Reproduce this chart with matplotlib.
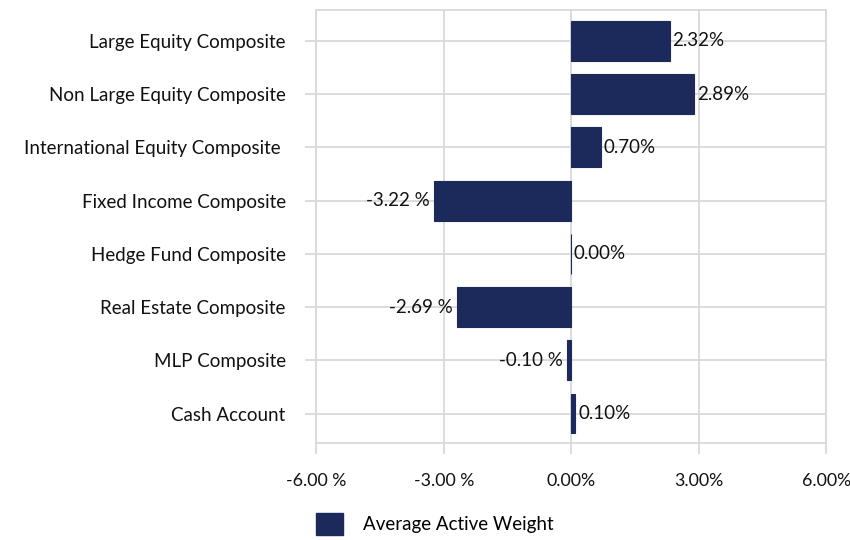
import numpy as np
import matplotlib.pyplot as plt
from matplotlib.patches import Patch

plt.rcParams['font.family'] = ['Lato', 'DejaVu Sans']

# Data
categories = ['Large Equity Composite', 'Non Large Equity Composite',
              'International Equity Composite ', 'Fixed Income Composite',
              'Hedge Fund Composite', 'Real Estate Composite',
              'MLP Composite', 'Cash Account']
weights = [2.32, 2.89, 0.70, -3.22, 0.00, -2.69, -0.10, 0.10]
xticks = [-6, -3, 0, 3, 6]
xtick_labels = ['-6.00 %', '-3.00 %', '0.00%', '3.00%', '6.00%']
series_name = 'Average Active Weight'

navy = '#1B2A5B'
grid_c = '#D9D9D9'
fs = 13.5

fig = plt.figure(figsize=(8.5, 5.4), dpi=100)
ax = fig.add_axes([0.372, 0.18, 0.6, 0.8015])

y = np.arange(len(categories))[::-1]
ax.barh(y, weights, height=0.75, color=navy, edgecolor=navy, linewidth=0.8, zorder=3)

# value labels
for yi, v in zip(y, weights):
    if v < 0:
        ax.annotate(f'{v:.2f} %', (v, yi), xytext=(-3, 0), textcoords='offset points',
                    ha='right', va='center', fontsize=fs, color='#111111', zorder=4)
    else:
        ax.annotate(f'{v:.2f}%', (v, yi), xytext=(2, 0), textcoords='offset points',
                    ha='left', va='center', fontsize=fs, color='#111111', zorder=4)

ax.set_xlim(-6, 6)
ax.set_ylim(-0.55, 7.58)
ax.set_xticks(xticks)
ax.set_xticklabels(xtick_labels)
ax.set_yticks(y)
ax.set_yticklabels(categories)

ax.grid(True, color=grid_c, linewidth=1.3, zorder=0)
for s in ax.spines.values():
    s.set_color(grid_c)
    s.set_linewidth(1.3)
ax.tick_params(axis='both', colors=grid_c, length=8, width=1.3, labelsize=fs,
               labelcolor='#111111')
ax.tick_params(axis='x', pad=14, labelsize=12.8)
ax.tick_params(axis='y', pad=14)

fig.legend(handles=[Patch(facecolor=navy, edgecolor=navy)], labels=[series_name],
           loc='lower center', bbox_to_anchor=(0.512, -0.022), frameon=False,
           fontsize=fs, handlelength=1.4, handleheight=1.4, handletextpad=1.1)

fig.savefig('out.png', dpi=100)
